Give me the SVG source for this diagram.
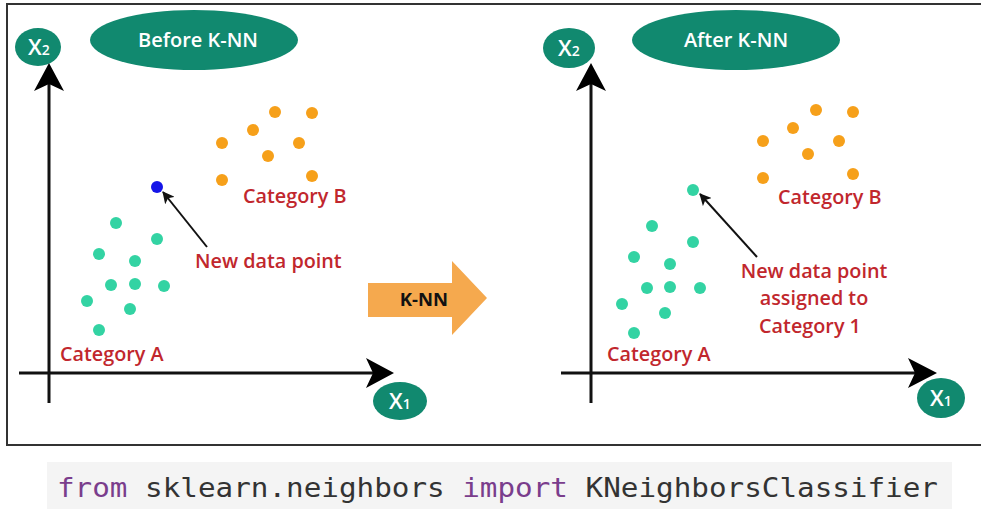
<svg xmlns="http://www.w3.org/2000/svg" width="981" height="513" viewBox="0 0 981 513">
<style>
.teal{fill:#11896f}
.lbl{font-family:"Open Sans","Liberation Sans",sans-serif;font-weight:600;fill:#c1272d;font-size:19.8px}
.wt{font-family:"Open Sans","Liberation Sans",sans-serif;font-weight:600;fill:#ffffff}
.ax{stroke:#111;stroke-width:3;fill:none}
.ah{fill:#000}
.g{fill:#33d3a3}
.o{fill:#f6a01a}
.ptr{stroke:#111;stroke-width:2;fill:none}
.code{font-family:"DejaVu Sans Mono","Liberation Mono",monospace;font-size:26px;fill:#333}
.kw{fill:#7a3d8c}
</style>
<defs>
<marker id="pa" viewBox="0 0 12 12" refX="11" refY="6" markerWidth="12" markerHeight="12" markerUnits="userSpaceOnUse" orient="auto">
<path d="M0,0 L12,6 L0,12 L3,6 Z" fill="#111"/>
</marker>
</defs>
<rect width="981" height="513" fill="#ffffff"/>
<rect x="7" y="4" width="990" height="441" fill="none" stroke="#333" stroke-width="2"/>

<g id="left-panel">
<g id="left-title"><ellipse class="teal" cx="194" cy="40" rx="104" ry="30"/><text class="wt" x="198" y="47" font-size="20" text-anchor="middle">Before K-NN</text></g>
<g id="left-x2"><ellipse class="teal" cx="38" cy="47" rx="23" ry="19"/><text class="wt" x="28" y="55" font-size="22">X<tspan font-size="14">2</tspan></text></g>
<g id="left-x1"><ellipse class="teal" cx="400" cy="401" rx="27" ry="19"/><text class="wt" x="389" y="409" font-size="22">X<tspan font-size="14">1</tspan></text></g>
<g id="left-axes">
<line class="ax" x1="49" y1="84" x2="49" y2="403"/>
<path class="ah" d="M49,63 L64,91 L49,84 L34,91 Z"/>
<line class="ax" x1="19" y1="373" x2="375" y2="373"/>
<path class="ah" d="M394,373 L366,388 L373,373 L366,358 Z"/>
</g>
<g id="left-catB">
<circle class="o" cx="275" cy="112" r="6"/><circle class="o" cx="312" cy="113" r="6"/>
<circle class="o" cx="253" cy="130" r="6"/><circle class="o" cx="222" cy="143" r="6"/>
<circle class="o" cx="299" cy="143" r="6"/><circle class="o" cx="268" cy="156" r="6"/>
<circle class="o" cx="222" cy="180" r="6"/><circle class="o" cx="312" cy="176" r="6"/>
<text class="lbl" x="243" y="203">Category B</text>
</g>
<g id="left-catA">
<circle class="g" cx="116" cy="223" r="6"/><circle class="g" cx="157" cy="239" r="6"/>
<circle class="g" cx="99" cy="254" r="6"/><circle class="g" cx="135" cy="261" r="6"/>
<circle class="g" cx="111" cy="285" r="6"/><circle class="g" cx="135" cy="284" r="6"/>
<circle class="g" cx="164" cy="286" r="6"/><circle class="g" cx="87" cy="301" r="6"/>
<circle class="g" cx="130" cy="309" r="6"/><circle class="g" cx="99" cy="330" r="6"/>
<text class="lbl" x="60" y="361">Category A</text>
</g>
<g id="left-new">
<circle cx="157" cy="187" r="6" fill="#1515e8"/>
<text class="lbl" x="195" y="268">New data point</text>
</g>
</g>

<g id="knn-arrow">
<path d="M368,283 L452,283 L452,261 L487,298 L452,335 L452,317 L368,317 Z" fill="#f5a94e"/>
<text x="424" y="306" font-family="'Open Sans','Liberation Sans',sans-serif" font-weight="700" font-size="18.5" fill="#111" text-anchor="middle">K-NN</text>
</g>

<g id="right-panel">
<g id="right-title"><ellipse class="teal" cx="736" cy="40" rx="104" ry="30"/><text class="wt" x="736" y="47" font-size="20" text-anchor="middle">After K-NN</text></g>
<g id="right-x2"><ellipse class="teal" cx="569" cy="48" rx="26" ry="20"/><text class="wt" x="558" y="56" font-size="22">X<tspan font-size="14">2</tspan></text></g>
<g id="right-x1"><ellipse class="teal" cx="941" cy="398" rx="24" ry="20"/><text class="wt" x="930" y="406" font-size="22">X<tspan font-size="14">1</tspan></text></g>
<g id="right-axes">
<line class="ax" x1="591" y1="84" x2="591" y2="403"/>
<path class="ah" d="M591,63 L606,91 L591,84 L576,91 Z"/>
<line class="ax" x1="561" y1="373" x2="918" y2="373"/>
<path class="ah" d="M937,373 L908,388 L915,373 L908,358 Z"/>
</g>
<g id="right-catB">
<circle class="o" cx="816" cy="110" r="6"/><circle class="o" cx="853" cy="112" r="6"/>
<circle class="o" cx="793" cy="128" r="6"/><circle class="o" cx="763" cy="141" r="6"/>
<circle class="o" cx="839" cy="141" r="6"/><circle class="o" cx="808" cy="154" r="6"/>
<circle class="o" cx="763" cy="178" r="6"/><circle class="o" cx="853" cy="174" r="6"/>
<text class="lbl" x="778" y="204">Category B</text>
</g>
<g id="right-catA">
<circle class="g" cx="652" cy="226" r="6"/><circle class="g" cx="693" cy="242" r="6"/>
<circle class="g" cx="634" cy="257" r="6"/><circle class="g" cx="670" cy="264" r="6"/>
<circle class="g" cx="647" cy="288" r="6"/><circle class="g" cx="670" cy="287" r="6"/>
<circle class="g" cx="700" cy="288" r="6"/><circle class="g" cx="622" cy="304" r="6"/>
<circle class="g" cx="665" cy="313" r="6"/><circle class="g" cx="634" cy="333" r="6"/>
<text class="lbl" x="607" y="361">Category A</text>
</g>
<g id="right-new">
<circle class="g" cx="693" cy="190" r="6"/>
<text class="lbl" x="814" y="278" text-anchor="middle">New data point</text>
<text class="lbl" x="814" y="305" text-anchor="middle">assigned to</text>
<text class="lbl" x="810" y="333" text-anchor="middle">Category 1</text>
</g>
</g>

<g id="connectors">
<line class="ptr" x1="207" y1="247" x2="163" y2="192" marker-end="url(#pa)"/>
<line class="ptr" x1="757" y1="257" x2="700" y2="194" marker-end="url(#pa)"/>
</g>

<g id="code">
<rect x="47" y="462" width="905" height="47" fill="#f4f4f4"/>
<text class="code" x="57" y="497" textLength="881" lengthAdjust="spacingAndGlyphs"><tspan class="kw">from</tspan> sklearn.neighbors <tspan class="kw">import</tspan> KNeighborsClassifier</text>
</g>
</svg>
